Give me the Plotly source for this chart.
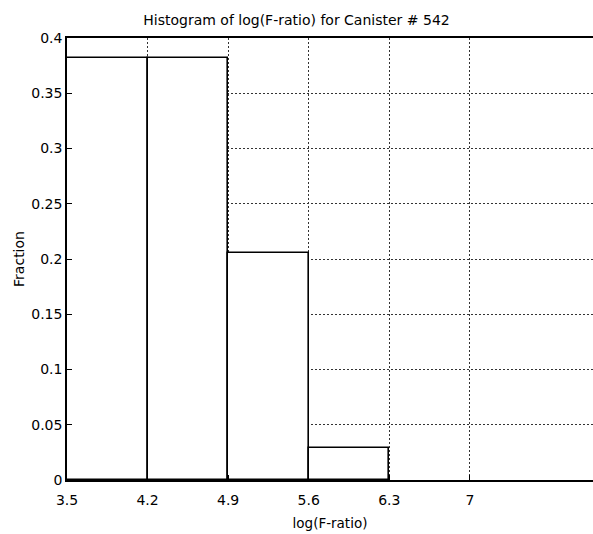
import plotly.graph_objects as go

bin_left = [3.5, 4.2, 4.9, 5.6]
bin_width = 0.7
fraction = [13/34, 13/34, 7/34, 1/34]
x_ticks = [3.5, 4.2, 4.9, 5.6, 6.3, 7]
x_tick_labels = ["3.5", "4.2", "4.9", "5.6", "6.3", "7"]
y_ticks = [0, 0.05, 0.1, 0.15, 0.2, 0.25, 0.3, 0.35, 0.4]
y_tick_labels = ["0", "0.05", "0.1", "0.15", "0.2", "0.25", "0.3", "0.35", "0.4"]

centers = [b + bin_width / 2 for b in bin_left]

fig = go.Figure(go.Bar(
    x=centers, y=fraction, width=[bin_width] * len(centers),
    marker=dict(color="white", line=dict(color="black", width=1.6)),
))

font = dict(family="DejaVu Sans, sans-serif", size=14, color="black")
fig.update_layout(
    width=593, height=534,
    margin=dict(l=67, r=0, t=38, b=54),
    paper_bgcolor="white", plot_bgcolor="white",
    font=font, showlegend=False, bargap=0,
    title=dict(text="Histogram of log(F-ratio) for Canister # 542", x=0.5, xanchor="center",
               y=0.963, yanchor="middle", font=dict(size=14)),
)
grid = dict(showgrid=True, gridcolor="#333", griddash="2px,2px", gridwidth=1,
            showline=True, linecolor="black", linewidth=1.5, mirror=True,
            ticks="inside", ticklen=5, tickcolor="black", zeroline=False,
            automargin=False)
fig.update_xaxes(
    range=[3.5, 8.07], tickvals=x_ticks, ticktext=x_tick_labels,
    ticklabelstandoff=6, **grid,
    title=dict(text="log(F-ratio)", standoff=12, font=dict(size=13.5)),
)
fig.update_yaxes(
    range=[0, 0.4], tickvals=y_ticks, ticktext=y_tick_labels,
    **grid,
    title=dict(text="Fraction", standoff=3, font=dict(size=14)),
)
fig.write_html(
    "out.html",
    config={"displayModeBar": False},
    post_script="document.body.style.margin='0';document.body.style.overflow='hidden';",
)
